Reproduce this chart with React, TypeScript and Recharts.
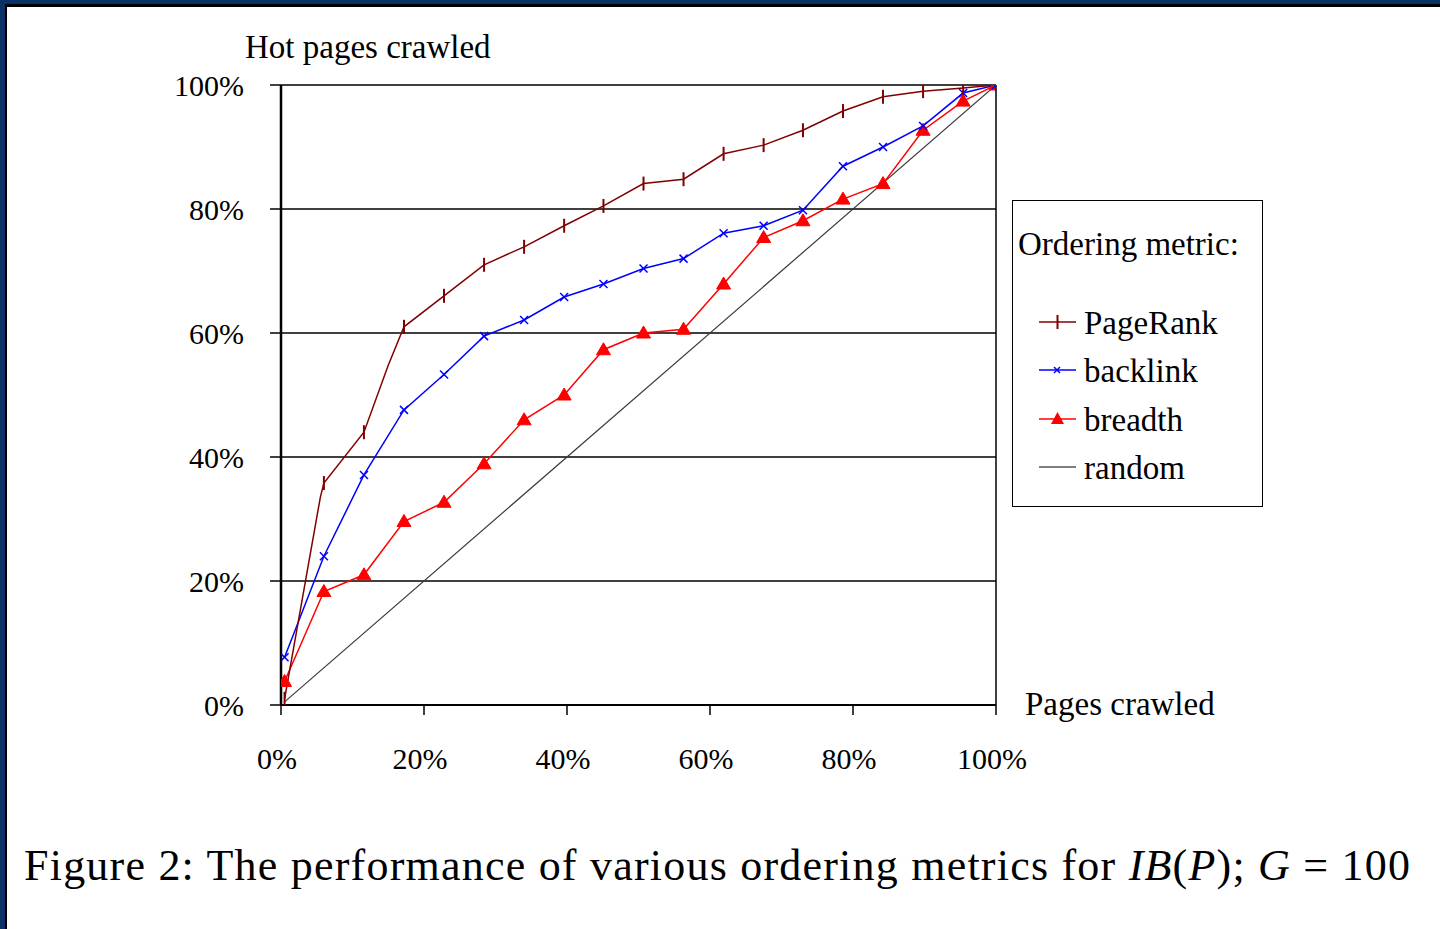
import React from 'react'
import {
  LineChart,
  Line,
  XAxis,
  YAxis,
  CartesianGrid,
  ReferenceLine,
} from 'recharts'

// share of pages crawled (%) at each sample
const pagesCrawled = [0.5, 6.0, 11.6, 17.2, 22.8, 28.4, 34.0, 39.6, 45.1, 50.7, 56.3, 61.9, 67.5, 73.0, 78.6, 84.2, 89.8, 95.4, 100]

// hot pages crawled (%) per ordering metric
const pageRank = [1.0, 35.8, 44.0, 61.0, 66.0, 71.0, 73.9, 77.3, 80.5, 84.1, 84.8, 88.9, 90.3, 92.7, 95.8, 98.1, 99.0, 99.5, 100]
const backlink = [7.7, 24.0, 37.1, 47.6, 53.3, 59.5, 62.1, 65.8, 67.9, 70.4, 72.0, 76.1, 77.3, 79.8, 86.9, 90.0, 93.4, 98.7, 100]
const breadth = [3.8, 18.3, 21.0, 29.6, 32.7, 38.9, 46.0, 50.0, 57.3, 60.0, 60.6, 67.9, 75.4, 78.1, 81.6, 84.1, 92.7, 97.4, 100]

// PageRank curve has a couple of unmarked bends between markers
const pageRankBendX = [5.5, 15.0]
const pageRankBendY = [33.5, 54.8]

const randomX = [0.5, 100]
const randomY = [0.5, 100]

const xTicks = [0, 20, 40, 60, 80, 100]
const yTicks = [0, 20, 40, 60, 80, 100]

const legendItems = ['PageRank', 'backlink', 'breadth', 'random']

const PR_COLOR = '#800000'
const BL_COLOR = '#0000ff'
const BR_COLOR = '#ff0000'
const RND_COLOR = '#3a3a3a'
const FONT = '"Liberation Serif", "Times New Roman", serif'

const prData = [
  ...pagesCrawled.map((x, i) => ({ x, y: pageRank[i], mark: true })),
  ...pageRankBendX.map((x, i) => ({ x, y: pageRankBendY[i], mark: false })),
].sort((a, b) => a.x - b.x)
const blData = pagesCrawled.map((x, i) => ({ x, y: backlink[i] }))
const brData = pagesCrawled.map((x, i) => ({ x, y: breadth[i] }))
const rndData = randomX.map((x, i) => ({ x, y: randomY[i] }))

const PlusDot = (props: any) => {
  const { cx, cy, payload, index } = props
  if (!payload.mark) return <g key={`pr-${index}`} />
  return (
    <line
      key={`pr-${index}`}
      x1={cx}
      x2={cx}
      y1={cy - 7}
      y2={cy + 7}
      stroke={PR_COLOR}
      strokeWidth={2}
    />
  )
}

const CrossDot = (props: any) => {
  const { cx, cy, index } = props
  const s = 4
  return (
    <g key={`bl-${index}`} stroke={BL_COLOR} strokeWidth={1.5}>
      <line x1={cx - s} y1={cy - s} x2={cx + s} y2={cy + s} />
      <line x1={cx - s} y1={cy + s} x2={cx + s} y2={cy - s} />
    </g>
  )
}

const TriangleDot = (props: any) => {
  const { cx, cy, index } = props
  return (
    <polygon
      key={`br-${index}`}
      points={`${cx},${cy - 7} ${cx - 7},${cy + 5} ${cx + 7},${cy + 5}`}
      fill={BR_COLOR}
      stroke={BR_COLOR}
    />
  )
}

const XTick = (props: any) => {
  const { x, y, payload } = props
  return (
    <text x={x - 4} y={y + 52} textAnchor="middle" fontFamily={FONT} fontSize={30} fill="#000">
      {payload.value}%
    </text>
  )
}

const YTick = (props: any) => {
  const { x, y, payload } = props
  return (
    <text x={x - 24} y={y + 11} textAnchor="end" fontFamily={FONT} fontSize={30} fill="#000">
      {payload.value}%
    </text>
  )
}

const LegendSample = ({ name }: { name: string }) => {
  const color =
    name === 'PageRank' ? PR_COLOR : name === 'backlink' ? BL_COLOR : name === 'breadth' ? BR_COLOR : '#555'
  return (
    <svg width={40} height={20} style={{ display: 'block' }}>
      <line x1={1} x2={38} y1={10} y2={10} stroke={color} strokeWidth={1.5} />
      {name === 'PageRank' && <line x1={19.5} x2={19.5} y1={3} y2={17} stroke={color} strokeWidth={2} />}
      {name === 'backlink' && (
        <g stroke={color} strokeWidth={1.5}>
          <line x1={16} y1={7} x2={22} y2={13} />
          <line x1={16} y1={13} x2={22} y2={7} />
        </g>
      )}
      {name === 'breadth' && <polygon points="19.5,3 13,15 26,15" fill={color} />}
    </svg>
  )
}

const OrderingLegend = () => (
  <div
    style={{
      position: 'absolute',
      left: 1012,
      top: 200,
      width: 251,
      height: 307,
      border: '1.5px solid #000',
      fontFamily: FONT,
      fontSize: 33,
      color: '#000',
      boxSizing: 'border-box',
    }}
  >
    <div style={{ position: 'absolute', left: 5, top: 43, lineHeight: '0px', whiteSpace: 'nowrap' }}>
      Ordering metric:
    </div>
    {legendItems.map((name, i) => (
      <div key={name}>
        <div style={{ position: 'absolute', left: 25, top: 111 + i * 48.3 }}>
          <LegendSample name={name} />
        </div>
        <div style={{ position: 'absolute', left: 71, top: 122 + i * 48.3, lineHeight: '0px', whiteSpace: 'nowrap' }}>
          {name}
        </div>
      </div>
    ))}
  </div>
)

export default function App() {
  return (
    <div
      style={{
        position: 'absolute',
        left: 0,
        top: 0,
        width: 1440,
        height: 929,
        background: '#fff',
        overflow: 'hidden',
      }}
    >
      {/* page frame */}
      <div style={{ position: 'absolute', left: 0, top: 0, width: 1440, height: 4, background: '#0b3264' }} />
      <div style={{ position: 'absolute', left: 0, top: 0, width: 5, height: 929, background: '#0b3264' }} />
      <div style={{ position: 'absolute', left: 5, top: 4, width: 1435, height: 3, background: '#000' }} />
      <div style={{ position: 'absolute', left: 5, top: 4, width: 2, height: 925, background: '#000' }} />

      <div style={{ position: 'absolute', left: 0, top: 0 }}>
        <LineChart width={1440} height={929} margin={{ top: 85, right: 444, left: 201, bottom: 164 }}>
          <CartesianGrid vertical={false} stroke="#000" strokeWidth={1.5} />
          <XAxis
            dataKey="x"
            type="number"
            domain={[0, 100]}
            ticks={xTicks}
            height={60}
            tickSize={10}
            tick={<XTick />}
            axisLine={{ stroke: '#000', strokeWidth: 2 }}
            tickLine={{ stroke: '#000', strokeWidth: 1.5 }}
            allowDataOverflow
          />
          <YAxis
            type="number"
            domain={[0, 100]}
            ticks={yTicks}
            width={80}
            tickSize={11}
            tick={<YTick />}
            axisLine={{ stroke: '#000', strokeWidth: 2.5 }}
            tickLine={{ stroke: '#000', strokeWidth: 1.5 }}
            allowDataOverflow
          />
          <ReferenceLine x={100} stroke="#000" strokeWidth={1.5} />
          <Line
            data={rndData}
            dataKey="y"
            stroke={RND_COLOR}
            strokeWidth={1.2}
            dot={false}
            activeDot={false}
            isAnimationActive={false}
          />
          <Line
            data={brData}
            dataKey="y"
            stroke={BR_COLOR}
            strokeWidth={1.5}
            dot={TriangleDot}
            activeDot={false}
            isAnimationActive={false}
          />
          <Line
            data={blData}
            dataKey="y"
            stroke={BL_COLOR}
            strokeWidth={1.5}
            dot={CrossDot}
            activeDot={false}
            isAnimationActive={false}
          />
          <Line
            data={prData}
            dataKey="y"
            stroke={PR_COLOR}
            strokeWidth={1.5}
            dot={PlusDot}
            activeDot={false}
            isAnimationActive={false}
          />
        </LineChart>
      </div>

      <svg
        width={1440}
        height={929}
        style={{ position: 'absolute', left: 0, top: 0, pointerEvents: 'none' }}
      >
        <text x={245} y={58} fontFamily={FONT} fontSize={33} fill="#000">
          Hot pages crawled
        </text>
        <text x={1025} y={715} fontFamily={FONT} fontSize={33} fill="#000">
          Pages crawled
        </text>
        <text
          x={24}
          y={880}
          fontFamily={FONT}
          fontSize={44}
          fill="#000"
          textLength={1386}
          lengthAdjust="spacing"
        >
          Figure 2: The performance of various ordering metrics for{' '}
          <tspan fontStyle="italic">IB</tspan>(<tspan fontStyle="italic">P</tspan>);{' '}
          <tspan fontStyle="italic">G</tspan> = 100
        </text>
      </svg>

      <OrderingLegend />
    </div>
  )
}
